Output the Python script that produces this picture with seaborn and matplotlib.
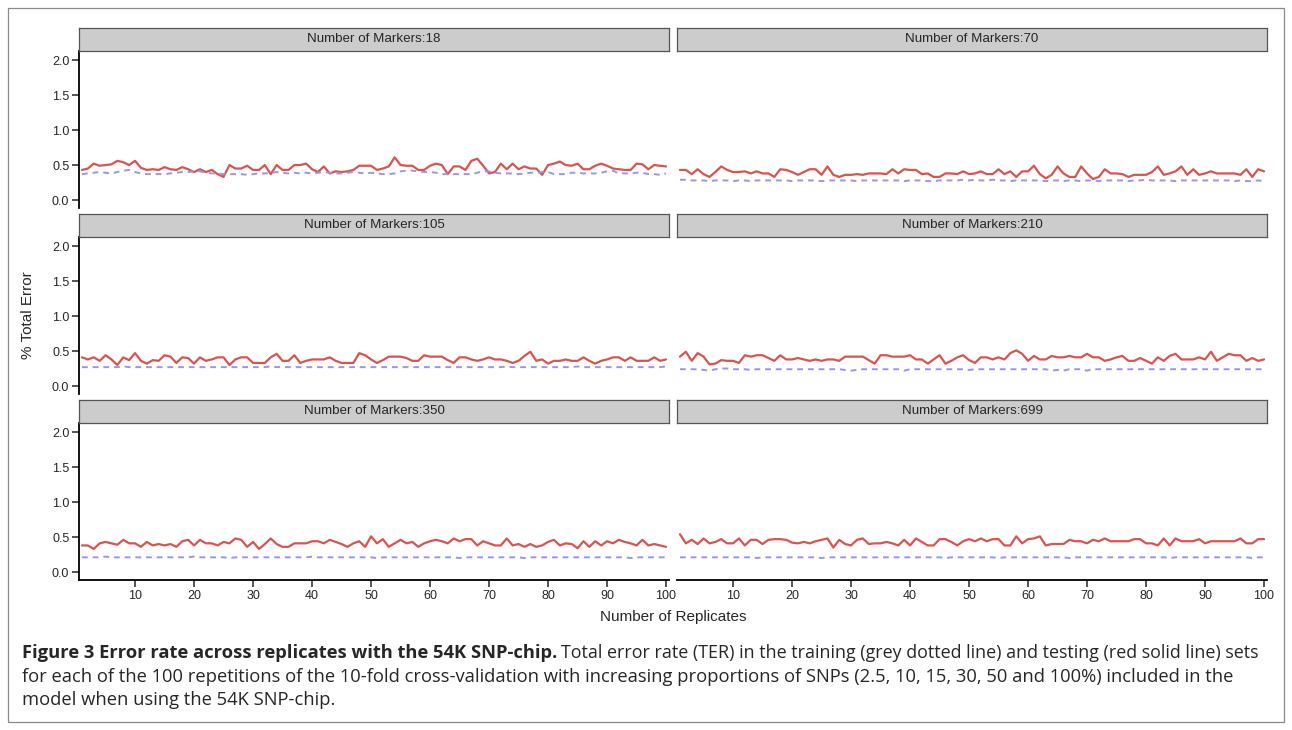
import numpy as np
import pandas as pd
import matplotlib
matplotlib.use("Agg")
import matplotlib.pyplot as plt
import seaborn as sns
from matplotlib.patches import Rectangle

# -----------------------------
# Data
# -----------------------------
markers = [18, 70, 105, 210, 350, 699]

test_18 = [0.43, 0.45, 0.52, 0.49, 0.50, 0.51, 0.56, 0.54, 0.50, 0.56,
           0.46, 0.43, 0.44, 0.43, 0.47, 0.44, 0.43, 0.47, 0.44, 0.40,
           0.44, 0.40, 0.43, 0.37, 0.33, 0.50, 0.45, 0.45, 0.49, 0.43,
           0.43, 0.50, 0.37, 0.50, 0.43, 0.43, 0.50, 0.50, 0.52, 0.44,
           0.40, 0.48, 0.38, 0.41, 0.40, 0.41, 0.43, 0.49, 0.49, 0.49,
           0.43, 0.45, 0.48, 0.61, 0.50, 0.49, 0.49, 0.43, 0.43, 0.49,
           0.52, 0.50, 0.37, 0.48, 0.48, 0.43, 0.56, 0.59, 0.49, 0.38,
           0.40, 0.52, 0.44, 0.52, 0.44, 0.48, 0.45, 0.45, 0.36, 0.50,
           0.52, 0.55, 0.50, 0.49, 0.52, 0.44, 0.44, 0.49, 0.52, 0.49,
           0.45, 0.44, 0.43, 0.43, 0.52, 0.51, 0.44, 0.50, 0.49, 0.48]
train_18 = [0.37, 0.38, 0.39, 0.40, 0.39, 0.38, 0.40, 0.42, 0.43, 0.40,
            0.38, 0.37, 0.37, 0.37, 0.37, 0.38, 0.39, 0.40, 0.40, 0.41,
            0.41, 0.39, 0.38, 0.38, 0.37, 0.37, 0.37, 0.37, 0.36, 0.37,
            0.38, 0.38, 0.39, 0.40, 0.39, 0.38, 0.39, 0.38, 0.39, 0.38,
            0.39, 0.40, 0.39, 0.38, 0.38, 0.39, 0.40, 0.39, 0.38, 0.39,
            0.38, 0.37, 0.37, 0.38, 0.41, 0.42, 0.42, 0.41, 0.40, 0.40,
            0.39, 0.37, 0.37, 0.37, 0.37, 0.37, 0.37, 0.39, 0.41, 0.41,
            0.39, 0.38, 0.38, 0.38, 0.37, 0.38, 0.39, 0.39, 0.40, 0.40,
            0.37, 0.37, 0.37, 0.39, 0.39, 0.38, 0.38, 0.38, 0.39, 0.41,
            0.42, 0.38, 0.38, 0.38, 0.39, 0.39, 0.37, 0.37, 0.36, 0.38]

test_70 = [0.43, 0.43, 0.37, 0.44, 0.37, 0.33, 0.40, 0.48, 0.43, 0.40,
           0.40, 0.41, 0.38, 0.41, 0.38, 0.38, 0.33, 0.44, 0.43, 0.40,
           0.36, 0.40, 0.44, 0.44, 0.36, 0.48, 0.36, 0.33, 0.36, 0.36,
           0.37, 0.36, 0.38, 0.38, 0.38, 0.37, 0.44, 0.38, 0.44, 0.43,
           0.43, 0.37, 0.38, 0.33, 0.33, 0.38, 0.38, 0.37, 0.41, 0.37,
           0.38, 0.41, 0.37, 0.37, 0.44, 0.37, 0.41, 0.33, 0.41, 0.41,
           0.49, 0.37, 0.31, 0.36, 0.48, 0.38, 0.33, 0.33, 0.48, 0.38,
           0.30, 0.33, 0.44, 0.38, 0.38, 0.37, 0.33, 0.36, 0.36, 0.36,
           0.40, 0.48, 0.36, 0.38, 0.41, 0.48, 0.36, 0.44, 0.36, 0.38,
           0.41, 0.38, 0.38, 0.38, 0.38, 0.36, 0.44, 0.33, 0.44, 0.41]
train_70 = [0.29, 0.29, 0.28, 0.28, 0.28, 0.27, 0.28, 0.28, 0.28, 0.27,
            0.28, 0.28, 0.27, 0.28, 0.28, 0.28, 0.28, 0.28, 0.28, 0.27,
            0.28, 0.28, 0.28, 0.28, 0.27, 0.28, 0.28, 0.28, 0.28, 0.28,
            0.27, 0.28, 0.28, 0.28, 0.28, 0.28, 0.28, 0.28, 0.27, 0.28,
            0.28, 0.28, 0.27, 0.27, 0.28, 0.28, 0.28, 0.28, 0.29, 0.28,
            0.29, 0.28, 0.28, 0.29, 0.28, 0.28, 0.27, 0.28, 0.28, 0.28,
            0.28, 0.28, 0.27, 0.28, 0.28, 0.27, 0.28, 0.28, 0.27, 0.28,
            0.28, 0.27, 0.28, 0.28, 0.28, 0.28, 0.27, 0.28, 0.28, 0.29,
            0.28, 0.28, 0.28, 0.28, 0.27, 0.28, 0.28, 0.28, 0.28, 0.28,
            0.28, 0.28, 0.28, 0.28, 0.27, 0.28, 0.27, 0.27, 0.28, 0.27]

test_105 = [0.41, 0.38, 0.41, 0.36, 0.44, 0.38, 0.30, 0.41, 0.37, 0.47,
            0.36, 0.32, 0.37, 0.36, 0.44, 0.42, 0.33, 0.41, 0.40, 0.32,
            0.41, 0.36, 0.38, 0.41, 0.41, 0.30, 0.38, 0.41, 0.41, 0.33,
            0.33, 0.33, 0.41, 0.46, 0.36, 0.36, 0.44, 0.33, 0.36, 0.38,
            0.38, 0.38, 0.41, 0.36, 0.33, 0.33, 0.33, 0.47, 0.44, 0.38,
            0.33, 0.37, 0.42, 0.42, 0.42, 0.40, 0.36, 0.36, 0.44, 0.42,
            0.42, 0.42, 0.37, 0.33, 0.41, 0.41, 0.38, 0.36, 0.38, 0.41,
            0.38, 0.38, 0.36, 0.33, 0.36, 0.43, 0.49, 0.36, 0.38, 0.32,
            0.36, 0.36, 0.38, 0.36, 0.36, 0.41, 0.36, 0.32, 0.36, 0.38,
            0.41, 0.41, 0.36, 0.41, 0.36, 0.36, 0.36, 0.41, 0.36, 0.38]
train_105 = [0.27, 0.27, 0.27, 0.27, 0.27, 0.27, 0.27, 0.28, 0.27, 0.27,
             0.27, 0.27, 0.27, 0.27, 0.27, 0.27, 0.27, 0.27, 0.27, 0.27,
             0.27, 0.27, 0.27, 0.27, 0.27, 0.27, 0.27, 0.27, 0.27, 0.27,
             0.27, 0.27, 0.28, 0.27, 0.27, 0.27, 0.27, 0.27, 0.27, 0.27,
             0.27, 0.27, 0.27, 0.27, 0.27, 0.27, 0.27, 0.27, 0.27, 0.27,
             0.27, 0.27, 0.27, 0.27, 0.27, 0.27, 0.27, 0.27, 0.27, 0.27,
             0.27, 0.27, 0.27, 0.27, 0.27, 0.27, 0.27, 0.27, 0.27, 0.27,
             0.27, 0.27, 0.28, 0.27, 0.27, 0.27, 0.27, 0.27, 0.27, 0.27,
             0.27, 0.27, 0.27, 0.27, 0.28, 0.27, 0.27, 0.27, 0.27, 0.27,
             0.27, 0.27, 0.27, 0.27, 0.27, 0.27, 0.27, 0.27, 0.27, 0.28]

test_210 = [0.42, 0.49, 0.36, 0.47, 0.42, 0.31, 0.32, 0.37, 0.36, 0.36,
            0.33, 0.44, 0.42, 0.44, 0.44, 0.40, 0.36, 0.44, 0.38, 0.38,
            0.40, 0.38, 0.36, 0.38, 0.36, 0.38, 0.38, 0.36, 0.42, 0.42,
            0.42, 0.42, 0.37, 0.32, 0.44, 0.44, 0.42, 0.42, 0.42, 0.44,
            0.38, 0.38, 0.32, 0.38, 0.44, 0.32, 0.36, 0.41, 0.44, 0.37,
            0.33, 0.41, 0.41, 0.38, 0.41, 0.38, 0.47, 0.51, 0.46, 0.36,
            0.43, 0.38, 0.38, 0.43, 0.41, 0.41, 0.43, 0.41, 0.41, 0.46,
            0.41, 0.41, 0.36, 0.38, 0.41, 0.43, 0.36, 0.36, 0.40, 0.36,
            0.32, 0.41, 0.36, 0.43, 0.46, 0.38, 0.38, 0.38, 0.41, 0.38,
            0.49, 0.36, 0.41, 0.46, 0.44, 0.44, 0.36, 0.40, 0.36, 0.38]
train_210 = [0.24, 0.24, 0.24, 0.24, 0.23, 0.22, 0.24, 0.25, 0.25, 0.24,
             0.24, 0.24, 0.23, 0.24, 0.24, 0.24, 0.24, 0.24, 0.24, 0.24,
             0.24, 0.24, 0.24, 0.24, 0.24, 0.24, 0.24, 0.24, 0.23, 0.22,
             0.23, 0.24, 0.24, 0.24, 0.24, 0.24, 0.24, 0.24, 0.22, 0.24,
             0.24, 0.24, 0.24, 0.24, 0.24, 0.24, 0.24, 0.24, 0.24, 0.23,
             0.24, 0.24, 0.24, 0.24, 0.24, 0.24, 0.24, 0.24, 0.24, 0.24,
             0.24, 0.24, 0.24, 0.22, 0.23, 0.22, 0.24, 0.24, 0.24, 0.22,
             0.24, 0.24, 0.24, 0.24, 0.24, 0.24, 0.24, 0.24, 0.24, 0.24,
             0.24, 0.24, 0.24, 0.24, 0.24, 0.24, 0.24, 0.24, 0.24, 0.24,
             0.24, 0.24, 0.24, 0.24, 0.24, 0.24, 0.24, 0.24, 0.24, 0.24]

test_350 = [0.38, 0.38, 0.33, 0.41, 0.43, 0.41, 0.39, 0.46, 0.41, 0.41,
            0.36, 0.43, 0.38, 0.40, 0.38, 0.40, 0.36, 0.44, 0.46, 0.38,
            0.46, 0.41, 0.41, 0.38, 0.43, 0.41, 0.48, 0.46, 0.36, 0.43,
            0.33, 0.40, 0.48, 0.40, 0.36, 0.36, 0.41, 0.41, 0.41, 0.44,
            0.44, 0.41, 0.46, 0.43, 0.40, 0.36, 0.41, 0.44, 0.36, 0.51,
            0.41, 0.47, 0.36, 0.41, 0.46, 0.41, 0.43, 0.36, 0.41, 0.44,
            0.46, 0.44, 0.41, 0.48, 0.44, 0.47, 0.47, 0.38, 0.44, 0.41,
            0.38, 0.38, 0.48, 0.38, 0.40, 0.36, 0.40, 0.36, 0.38, 0.43,
            0.46, 0.38, 0.41, 0.40, 0.34, 0.44, 0.36, 0.44, 0.38, 0.44,
            0.41, 0.46, 0.43, 0.41, 0.38, 0.46, 0.38, 0.40, 0.38, 0.36]
train_350 = [0.21, 0.21, 0.21, 0.21, 0.22, 0.21, 0.21, 0.21, 0.21, 0.21,
             0.21, 0.21, 0.21, 0.21, 0.21, 0.21, 0.21, 0.21, 0.21, 0.22,
             0.21, 0.21, 0.21, 0.21, 0.21, 0.20, 0.21, 0.21, 0.21, 0.21,
             0.21, 0.21, 0.21, 0.21, 0.21, 0.21, 0.21, 0.21, 0.21, 0.22,
             0.21, 0.21, 0.21, 0.21, 0.21, 0.21, 0.21, 0.21, 0.21, 0.21,
             0.20, 0.21, 0.21, 0.21, 0.21, 0.21, 0.21, 0.21, 0.21, 0.21,
             0.21, 0.21, 0.21, 0.21, 0.20, 0.21, 0.21, 0.21, 0.21, 0.21,
             0.21, 0.21, 0.21, 0.21, 0.21, 0.20, 0.21, 0.21, 0.21, 0.21,
             0.21, 0.21, 0.21, 0.21, 0.21, 0.21, 0.21, 0.21, 0.21, 0.21,
             0.21, 0.21, 0.21, 0.20, 0.21, 0.21, 0.21, 0.21, 0.21, 0.21]

test_699 = [0.54, 0.41, 0.46, 0.40, 0.48, 0.41, 0.43, 0.47, 0.41, 0.41,
            0.48, 0.38, 0.46, 0.46, 0.40, 0.46, 0.47, 0.47, 0.46, 0.42,
            0.41, 0.43, 0.41, 0.44, 0.46, 0.48, 0.35, 0.46, 0.40, 0.38,
            0.46, 0.48, 0.40, 0.41, 0.41, 0.43, 0.41, 0.38, 0.46, 0.38,
            0.48, 0.43, 0.38, 0.38, 0.47, 0.47, 0.43, 0.38, 0.44, 0.47,
            0.44, 0.48, 0.44, 0.47, 0.47, 0.38, 0.38, 0.51, 0.41, 0.47,
            0.48, 0.51, 0.38, 0.40, 0.40, 0.40, 0.46, 0.44, 0.44, 0.41,
            0.46, 0.44, 0.48, 0.44, 0.44, 0.44, 0.44, 0.47, 0.47, 0.41,
            0.41, 0.38, 0.48, 0.38, 0.48, 0.44, 0.44, 0.44, 0.47, 0.41,
            0.44, 0.44, 0.44, 0.44, 0.44, 0.48, 0.41, 0.41, 0.47, 0.47]
train_699 = [0.21, 0.21, 0.21, 0.21, 0.21, 0.21, 0.21, 0.21, 0.21, 0.21,
             0.21, 0.21, 0.21, 0.20, 0.21, 0.21, 0.21, 0.21, 0.21, 0.21,
             0.21, 0.21, 0.21, 0.21, 0.20, 0.21, 0.21, 0.21, 0.21, 0.21,
             0.21, 0.21, 0.21, 0.21, 0.21, 0.21, 0.21, 0.21, 0.21, 0.21,
             0.21, 0.21, 0.21, 0.21, 0.21, 0.20, 0.21, 0.21, 0.21, 0.21,
             0.21, 0.21, 0.21, 0.21, 0.20, 0.21, 0.21, 0.21, 0.21, 0.21,
             0.21, 0.21, 0.21, 0.21, 0.21, 0.21, 0.20, 0.21, 0.21, 0.21,
             0.21, 0.21, 0.21, 0.21, 0.21, 0.21, 0.21, 0.21, 0.21, 0.21,
             0.21, 0.21, 0.21, 0.20, 0.21, 0.21, 0.21, 0.21, 0.21, 0.21,
             0.21, 0.21, 0.21, 0.21, 0.21, 0.21, 0.21, 0.20, 0.21, 0.21]

test_sets = [test_18, test_70, test_105, test_210, test_350, test_699]
train_sets = [train_18, train_70, train_105, train_210, train_350, train_699]

rows = []
for m, te, tr in zip(markers, test_sets, train_sets):
    for i, v in enumerate(te):
        rows.append({"markers": m, "replicate": i + 1, "set": "test", "error": v})
    for i, v in enumerate(tr):
        rows.append({"markers": m, "replicate": i + 1, "set": "train", "error": v})
df = pd.DataFrame(rows)

# -----------------------------
# Figure
# -----------------------------
sns.set_style("white")
plt.rcParams["font.family"] = ["Liberation Sans", "DejaVu Sans"]

W, H = 1292, 730
fig = plt.figure(figsize=(W / 100, H / 100), dpi=100)

red = "#d9534f"
blue = "#9797e2"

col_x = [(79, 669), (677, 1267)]
row_y = [(51, 208), (237, 394), (423, 580)]
strip_h = 23


def fx(px):
    return px / W


def fy(py):
    return 1 - py / H


for k, m in enumerate(markers):
    r, c = divmod(k, 2)
    x0, x1 = col_x[c]
    y0, y1 = row_y[r]
    ax = fig.add_axes([fx(x0), fy(y1), fx(x1 - x0), (y1 - y0) / H])
    sub = df[df["markers"] == m]
    sns.lineplot(data=sub[sub["set"] == "test"], x="replicate", y="error",
                 color=red, lw=1.6, ax=ax, legend=False)
    sns.lineplot(data=sub[sub["set"] == "train"], x="replicate", y="error",
                 color=blue, lw=1.4, ax=ax, legend=False)
    ax.lines[-1].set_linestyle((0, (3, 2.5)))
    ax.set_xlim(0.5, 100.5)
    ax.set_ylim(-0.114, 2.13)
    ax.set_xlabel("")
    ax.set_ylabel("")
    for s in ax.spines.values():
        s.set_visible(False)
    if c == 0:
        ax.spines["left"].set_visible(True)
        ax.spines["left"].set_color("black")
        ax.spines["left"].set_linewidth(1.3)
        ax.set_yticks([0.0, 0.5, 1.0, 1.5, 2.0])
        ax.set_yticklabels(["0.0", "0.5", "1.0", "1.5", "2.0"])
        ax.tick_params(axis="y", length=5, width=1.1, direction="out",
                       labelsize=9, pad=2, left=True)
    else:
        ax.set_yticks([])
    if r == 2:
        ax.spines["bottom"].set_visible(True)
        ax.spines["bottom"].set_color("black")
        ax.spines["bottom"].set_linewidth(1.3)
        ax.set_xticks(range(10, 101, 10))
        ax.tick_params(axis="x", length=5, width=1.1, direction="out",
                       labelsize=9, pad=2, bottom=True)
    else:
        ax.set_xticks([])

    # strip
    sax = fig.add_axes([fx(x0), fy(y0), fx(x1 - x0), strip_h / H])
    sax.set_facecolor("#cccccc")
    sax.set_xticks([])
    sax.set_yticks([])
    for s in sax.spines.values():
        s.set_color("#555555")
        s.set_linewidth(0.9)
    sax.text(0.5, 0.5, f"Number of Markers:{m}", ha="center", va="center",
             fontsize=9.6, transform=sax.transAxes)

fig.text(fx(28), fy(315), "% Total Error", rotation=90, ha="center",
         va="center", fontsize=11)
fig.text(fx(673), fy(617), "Number of Replicates", ha="center",
         va="center", fontsize=11)

# caption
cap_font = ["Open Sans", "DejaVu Sans"]
t = fig.text(fx(22), fy(653), "Figure 3 Error rate across replicates with the 54K SNP-chip.",
             fontsize=13.2, fontweight="bold", family=cap_font, va="center")
fig.canvas.draw()
bb = t.get_window_extent()
fig.text(bb.x1 / W + 0.003, fy(653),
         "Total error rate (TER) in the training (grey dotted line) and testing (red solid line) sets",
         fontsize=12.9, family=cap_font, va="center")
fig.text(fx(22), fy(677),
         "for each of the 100 repetitions of the 10-fold cross-validation with increasing proportions of SNPs (2.5, 10, 15, 30, 50 and 100%) included in the",
         fontsize=13.2, family=cap_font, va="center")
fig.text(fx(22), fy(700), "model when using the 54K SNP-chip.",
         fontsize=13.2, family=cap_font, va="center")

fig.patches.append(Rectangle((fx(8), fy(722)), fx(1276), 714 / H,
                             transform=fig.transFigure, fill=False,
                             edgecolor="#8a8a8a", linewidth=0.9))

fig.savefig("out.png", dpi=100)
